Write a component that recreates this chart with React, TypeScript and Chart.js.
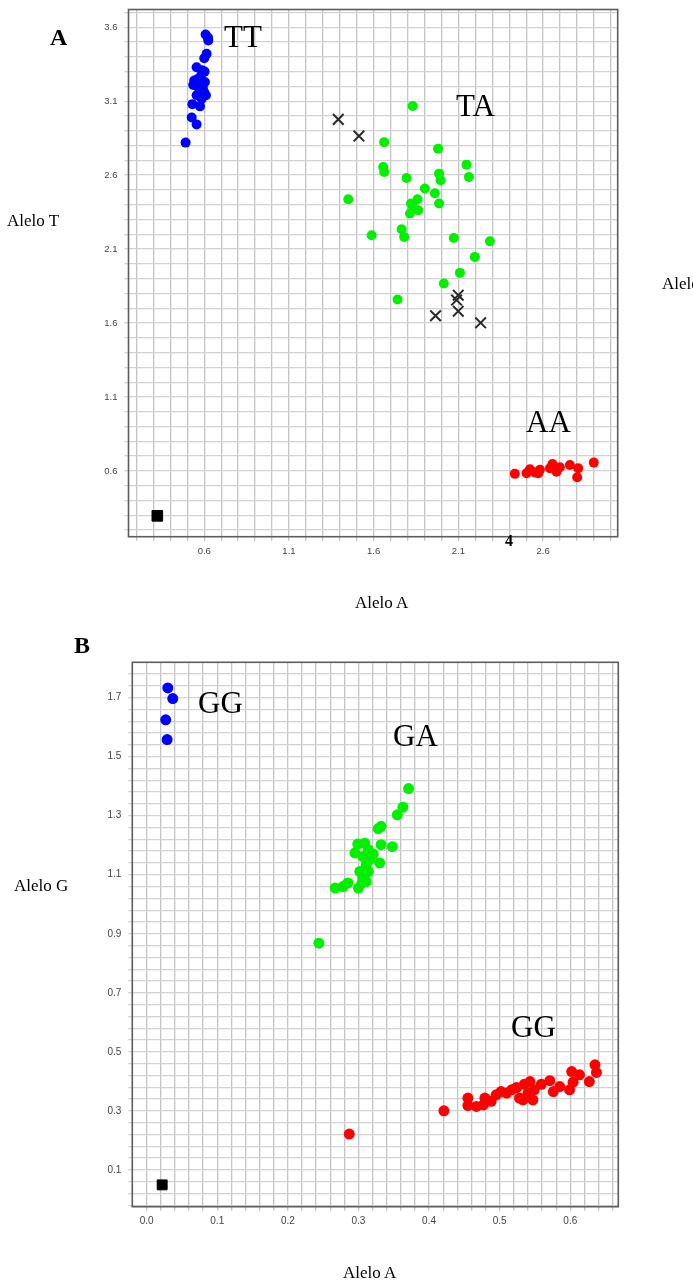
import React, { useEffect, useRef } from "react";
import { Chart, registerables } from "chart.js";
Chart.register(...registerables);

// ---------- Panel A data (Alelo A vs Alelo T) ----------
const TT_X = [0.608, 0.622, 0.624, 0.614, 0.600, 0.555, 0.585, 0.602, 0.580, 0.541, 0.604, 0.562, 0.535, 0.565, 0.592, 0.600, 0.555, 0.585, 0.610, 0.530, 0.575, 0.526, 0.555, 0.490];
const TT_Y = [3.551, 3.530, 3.510, 3.420, 3.390, 3.330, 3.310, 3.300, 3.270, 3.240, 3.230, 3.250, 3.210, 3.195, 3.190, 3.160, 3.140, 3.117, 3.140, 3.080, 3.065, 2.990, 2.943, 2.820];

const TA_X = [1.830, 1.662, 1.980, 2.148, 1.656, 1.662, 1.986, 2.162, 1.794, 1.995, 1.902, 1.961, 1.450, 1.859, 1.820, 1.986, 1.863, 1.814, 1.833, 1.765, 1.588, 1.780, 2.073, 2.286, 2.197, 2.109, 2.014, 1.741];
const TA_Y = [3.067, 2.823, 2.779, 2.671, 2.655, 2.621, 2.610, 2.587, 2.580, 2.565, 2.509, 2.477, 2.437, 2.437, 2.408, 2.408, 2.362, 2.340, 2.385, 2.234, 2.194, 2.182, 2.175, 2.153, 2.047, 1.939, 1.867, 1.759];

const AA_X = [2.433, 2.502, 2.522, 2.551, 2.571, 2.581, 2.640, 2.655, 2.679, 2.699, 2.758, 2.807, 2.801, 2.899];
const AA_Y = [0.580, 0.584, 0.611, 0.589, 0.584, 0.607, 0.618, 0.647, 0.595, 0.625, 0.640, 0.618, 0.557, 0.656];

const UND_A_X = [1.391, 1.513, 2.099, 2.089, 2.099, 1.965, 2.231];
const UND_A_Y = [2.977, 2.864, 1.788, 1.755, 1.680, 1.649, 1.601];

const NTC_A_X = [0.323];
const NTC_A_Y = [0.296];

// ---------- Panel B data (Alelo A vs Alelo G) ----------
const GGH_X = [0.030, 0.037, 0.027, 0.029];
const GGH_Y = [1.733, 1.697, 1.625, 1.558];

const GA_X = [0.371, 0.363, 0.355, 0.332, 0.328, 0.299, 0.309, 0.332, 0.348, 0.295, 0.314, 0.321, 0.306, 0.316, 0.330, 0.311, 0.302, 0.314, 0.306, 0.311, 0.285, 0.278, 0.267, 0.300, 0.305, 0.244];
const GA_Y = [1.392, 1.329, 1.303, 1.264, 1.256, 1.204, 1.207, 1.202, 1.195, 1.174, 1.185, 1.170, 1.162, 1.151, 1.140, 1.134, 1.111, 1.111, 1.089, 1.077, 1.072, 1.060, 1.055, 1.055, 1.072, 0.868];

const GGL_X = [0.287, 0.421, 0.455, 0.455, 0.467, 0.479, 0.477, 0.488, 0.495, 0.502, 0.510, 0.517, 0.524, 0.528, 0.535, 0.543, 0.540, 0.549, 0.547, 0.559, 0.571, 0.576, 0.585, 0.599, 0.604, 0.602, 0.613, 0.627, 0.635, 0.637, 0.533];
const GGL_Y = [0.221, 0.300, 0.343, 0.318, 0.315, 0.343, 0.320, 0.332, 0.354, 0.365, 0.360, 0.371, 0.379, 0.343, 0.390, 0.399, 0.360, 0.371, 0.337, 0.390, 0.402, 0.365, 0.382, 0.371, 0.397, 0.433, 0.422, 0.399, 0.456, 0.430, 0.337];

const NTC_B_X = [0.022];
const NTC_B_Y = [0.049];

// ---------- Axis ranges, grid steps and labelled ticks ----------
const A_X_RANGE = [0.153, 3.04];
const A_Y_RANGE = [0.155, 3.72];
const A_X_GRID = [0.2, 3.0, 0.1];
const A_Y_GRID = [0.2, 3.7, 0.1];
const A_X_LABELS = [0.6, 1.1, 1.6, 2.1, 2.6];
const A_Y_LABELS = [0.6, 1.1, 1.6, 2.1, 2.6, 3.1, 3.6];

const B_X_RANGE = [-0.0203, 0.668];
const B_Y_RANGE = [-0.025, 1.82];
const B_X_GRID = [0.0, 0.66, 0.02];
const B_Y_GRID = [-0.02, 1.78, 0.04];
const B_X_LABELS = [0.0, 0.1, 0.2, 0.3, 0.4, 0.5, 0.6];
const B_Y_LABELS = [0.1, 0.3, 0.5, 0.7, 0.9, 1.1, 1.3, 1.5, 1.7];

const zip = (xs: number[], ys: number[]) => xs.map((x, i) => ({ x, y: ys[i] }));

const makeTicks = (g: number[]) => {
  const [start, end, step] = g;
  const out: number[] = [];
  for (let i = 0; start + i * step <= end + 1e-9; i++) {
    out.push(Math.round((start + i * step) * 10000) / 10000);
  }
  return out;
};

const labelFor = (labels: number[]) => (v: number) =>
  labels.some((l) => Math.abs(l - v) < 1e-6) ? Number(v).toFixed(1) : "";

const zeroPad = (s: any) => {
  s.paddingTop = 0;
  s.paddingBottom = 0;
  s.paddingLeft = 0;
  s.paddingRight = 0;
};

const framePlugin = {
  id: "frame",
  beforeDatasetsDraw(chart: any) {
    const { ctx, chartArea } = chart;
    const { left, top, right, bottom } = chartArea;
    ctx.save();
    ctx.strokeStyle = "#5c5c5c";
    ctx.lineWidth = 1.6;
    ctx.strokeRect(left, top, right - left, bottom - top);
    ctx.restore();
  },
};

const dot = (label: string, data: any[], color: string, r: number) => ({
  label,
  data,
  pointStyle: "circle",
  pointRadius: r,
  pointBackgroundColor: color,
  pointBorderColor: color,
  pointBorderWidth: 0,
  showLine: false,
});

type PanelSpec = {
  top: number;
  height: number;
  padTop: number;
  padRight: number;
  yWidth: number;
  xHeight: number;
  xRange: number[];
  yRange: number[];
  xGrid: number[];
  yGrid: number[];
  xLabels: number[];
  yLabels: number[];
  fontSize: number;
  datasets: any[];
};

function Panel({ spec }: { spec: PanelSpec }) {
  const ref = useRef<HTMLCanvasElement | null>(null);
  useEffect(() => {
    if (!ref.current) return;
    const xTicks = makeTicks(spec.xGrid);
    const yTicks = makeTicks(spec.yGrid);
    const tickFont = { family: "'Liberation Sans', Arial, sans-serif", size: spec.fontSize };
    const chart = new Chart(ref.current, {
      type: "scatter",
      data: { datasets: spec.datasets },
      options: {
        animation: false,
        responsive: false,
        events: [],
        layout: { padding: { left: 0, top: spec.padTop, right: spec.padRight, bottom: 0 } },
        plugins: { legend: { display: false }, tooltip: { enabled: false } },
        scales: {
          x: {
            type: "linear",
            position: "bottom",
            min: spec.xRange[0],
            max: spec.xRange[1],
            afterBuildTicks: (s: any) => {
              s.ticks = xTicks.map((v) => ({ value: v }));
            },
            afterFit: (s: any) => {
              s.height = spec.xHeight;
              zeroPad(s);
            },
            grid: { color: "#c4c4c4", lineWidth: 1.3, tickLength: 4, drawTicks: true },
            border: { display: false },
            ticks: {
              autoSkip: false,
              maxRotation: 0,
              minRotation: 0,
              padding: 5,
              color: "#444",
              font: tickFont,
              callback: labelFor(spec.xLabels),
            },
          },
          y: {
            type: "linear",
            position: "left",
            min: spec.yRange[0],
            max: spec.yRange[1],
            afterBuildTicks: (s: any) => {
              s.ticks = yTicks.map((v) => ({ value: v }));
            },
            afterFit: (s: any) => {
              s.width = spec.yWidth;
              zeroPad(s);
            },
            grid: { color: "#d2d2d2", lineWidth: 1.3, tickLength: 4, drawTicks: true },
            border: { display: false },
            ticks: {
              autoSkip: false,
              padding: 7,
              color: "#444",
              font: tickFont,
              callback: labelFor(spec.yLabels),
            },
          },
        },
      } as any,
      plugins: [framePlugin],
    });
    return () => chart.destroy();
  }, []);
  return (
    <canvas
      ref={ref}
      width={693}
      height={spec.height}
      style={{ position: "absolute", left: 0, top: spec.top, width: 693, height: spec.height }}
    />
  );
}

function Txt({ x, base, size, bold, children }: { x: number; base: number; size: number; bold?: boolean; children: any }) {
  return (
    <div
      style={{
        position: "absolute",
        left: x,
        top: base - 0.8375 * size,
        fontFamily: "'Liberation Serif', 'Times New Roman', serif",
        fontSize: size,
        lineHeight: `${size}px`,
        fontWeight: bold ? "bold" : "normal",
        whiteSpace: "nowrap",
        color: "#000",
      }}
    >
      {children}
    </div>
  );
}

const cross = (label: string, data: any[]) => ({
  label,
  data,
  pointStyle: "crossRot",
  pointRadius: 7.5,
  pointBorderColor: "#2a2a2a",
  pointBorderWidth: 2,
  showLine: false,
});

const square = (label: string, data: any[], r: number) => ({
  label,
  data,
  pointStyle: "rect",
  pointRadius: r,
  pointBackgroundColor: "#000",
  pointBorderColor: "#000",
  pointBorderWidth: 1,
  showLine: false,
});

const panelA: PanelSpec = {
  top: 0,
  height: 615,
  padTop: 9,
  padRight: 75.3,
  yWidth: 128.5,
  xHeight: 78.3,
  xRange: A_X_RANGE,
  yRange: A_Y_RANGE,
  xGrid: A_X_GRID,
  yGrid: A_Y_GRID,
  xLabels: A_X_LABELS,
  yLabels: A_Y_LABELS,
  fontSize: 9.5,
  datasets: [
    dot("TT", zip(TT_X, TT_Y), "#0000ff", 5),
    dot("TA", zip(TA_X, TA_Y), "#00f000", 5),
    dot("AA", zip(AA_X, AA_Y), "#ff0000", 5),
    cross("Indeterminado", zip(UND_A_X, UND_A_Y)),
    square("NTC", zip(NTC_A_X, NTC_A_Y), 7.5),
  ],
};

const panelB: PanelSpec = {
  top: 615,
  height: 665,
  padTop: 47.3,
  padRight: 74.7,
  yWidth: 132.3,
  xHeight: 73.3,
  xRange: B_X_RANGE,
  yRange: B_Y_RANGE,
  xGrid: B_X_GRID,
  yGrid: B_Y_GRID,
  xLabels: B_X_LABELS,
  yLabels: B_Y_LABELS,
  fontSize: 10,
  datasets: [
    dot("GG", zip(GGH_X, GGH_Y), "#0000ff", 5.5),
    dot("GA", zip(GA_X, GA_Y), "#00f000", 5.5),
    dot("GG2", zip(GGL_X, GGL_Y), "#ff0000", 5.5),
    square("NTC", zip(NTC_B_X, NTC_B_Y), 7),
  ],
};

export default function App() {
  return (
    <div style={{ position: "absolute", left: 0, top: 0, width: 693, height: 1280, overflow: "hidden", background: "#fff" }}>
      <Panel spec={panelA} />
      <Panel spec={panelB} />

      <Txt x={50} base={45} size={24} bold>A</Txt>
      <Txt x={224} base={46.7} size={31}>TT</Txt>
      <Txt x={456} base={115.7} size={31}>TA</Txt>
      <Txt x={526} base={431.7} size={31}>AA</Txt>
      <Txt x={7} base={226} size={17}>Alelo T</Txt>
      <Txt x={662} base={289} size={17}>Alelo T</Txt>
      <Txt x={505} base={546} size={16} bold>4</Txt>
      <Txt x={355} base={608} size={17}>Alelo A</Txt>

      <Txt x={74} base={653} size={24} bold>B</Txt>
      <Txt x={198} base={713.3} size={31}>GG</Txt>
      <Txt x={393} base={745.7} size={31}>GA</Txt>
      <Txt x={511} base={1037.3} size={31}>GG</Txt>
      <Txt x={14} base={891.7} size={17}>Alelo G</Txt>
      <Txt x={343} base={1278.5} size={17}>Alelo A</Txt>
    </div>
  );
}
